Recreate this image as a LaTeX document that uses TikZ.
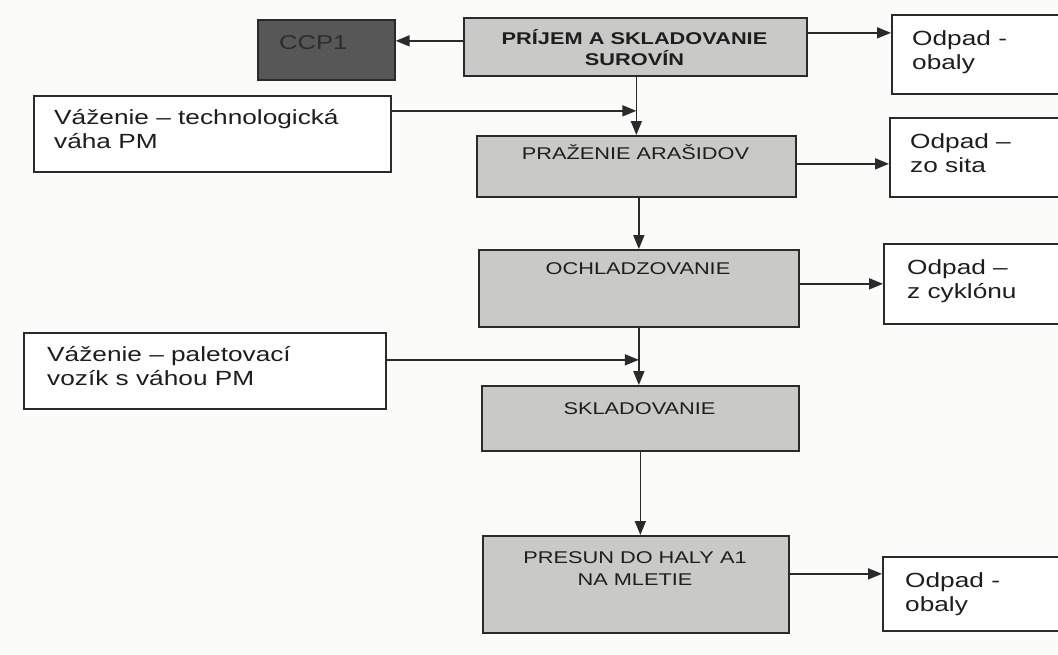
\documentclass[tikz,border=0pt]{standalone}
\usepackage{fontspec}
\setmainfont{Liberation Sans}
\newfontfamily\widesans[FakeStretch=1.28]{Liberation Sans}
\usetikzlibrary{arrows.meta}
\definecolor{edge}{HTML}{2A2A2A}
\definecolor{boxgray}{HTML}{C9C9C7}
\definecolor{darkbox}{HTML}{575757}
\definecolor{ink}{HTML}{1E1E1E}
\definecolor{ccpink}{HTML}{2C2C2C}
\definecolor{paper}{HTML}{FBFBF9}
\begin{document}
\begin{tikzpicture}[x=1pt,y=-1pt,
  gbox/.style={draw=edge, line width=1.7pt, fill=boxgray, inner sep=0pt, anchor=north west},
  wbox/.style={draw=edge, line width=1.7pt, fill=white, inner sep=0pt, anchor=north west},
  dbox/.style={draw=edge, line width=1.7pt, fill=darkbox, inner sep=0pt, anchor=north west},
  arr/.style={draw=edge, line width=1.7pt, -{Triangle[length=14pt,width=11pt]}},
  captxt/.style={text=ink, inner sep=0pt, anchor=base, align=center, font=\widesans\fontsize{17}{22}\selectfont},
  bigtxt/.style={text=ink, inner sep=0pt, anchor=base west, align=left, font=\widesans\fontsize{20.5}{24}\selectfont},
]
\useasboundingbox (0,0) rectangle (1058,654);
\fill[paper] (0,0) rectangle (1058,654);
\clip (0,0) rectangle (1058,654);

% process steps
\node[gbox, minimum width=343pt, minimum height=58pt] (prijem) at (463,17) {};
\node[gbox, minimum width=319pt, minimum height=61pt] (pra) at (476,135) {};
\node[gbox, minimum width=320pt, minimum height=77pt] (och) at (478,249) {};
\node[gbox, minimum width=317pt, minimum height=65pt] (skl) at (481,385) {};
\node[gbox, minimum width=306pt, minimum height=97pt] (pre) at (482,535) {};

% control point
\node[dbox, minimum width=137pt, minimum height=60pt] (ccp) at (257,19) {};

% weighing inputs
\node[wbox, minimum width=357pt, minimum height=76pt] (vaz1) at (33,95) {};
\node[wbox, minimum width=362pt, minimum height=76pt] (vaz2) at (23,332) {};

% waste outputs
\node[wbox, minimum width=190pt, minimum height=79pt] (odp1) at (891,14) {};
\node[wbox, minimum width=190pt, minimum height=79pt] (odp2) at (889,117) {};
\node[wbox, minimum width=190pt, minimum height=80pt] (odp3) at (883,243) {};
\node[wbox, minimum width=190pt, minimum height=74pt] (odp4) at (882,556) {};

% texts (multi-line nodes sit on the baseline of their last line)
\node[captxt, font=\widesans\fontsize{17}{21}\bfseries\selectfont] (prijemt) at (634.5,65) {PRÍJEM A SKLADOVANIE\\SUROVÍN};
\node[text=ccpink, inner sep=0pt, anchor=base west, font=\widesans\fontsize{20}{24}\selectfont] (ccpt) at (279,49) {CCP1};
\node[captxt] (prat) at (635.5,159) {PRAŽENIE ARAŠIDOV};
\node[captxt] (ocht) at (638,274) {OCHLADZOVANIE};
\node[captxt] (sklt) at (639.5,414) {SKLADOVANIE};
\node[captxt] (pret) at (635,585) {PRESUN DO HALY A1\\NA MLETIE};
\node[bigtxt] (vaz1t) at (54,148) {Váženie – technologická\\váha PM};
\node[bigtxt] (vaz2t) at (47,385) {Váženie – paletovací\\vozík s váhou PM};
\node[bigtxt] (odp1t) at (912,69) {Odpad -\\obaly};
\node[bigtxt] (odp2t) at (910,172) {Odpad –\\zo sita};
\node[bigtxt] (odp3t) at (907,298) {Odpad –\\z cyklónu};
\node[bigtxt] (odp4t) at (905,611) {Odpad -\\obaly};

% flow connectors
\draw[arr] ([yshift=6pt]prijem.west) -- ([yshift=6pt]prijem.west -| ccp.east);
\draw[arr] ([yshift=14pt]prijem.east) -- ([yshift=14pt]prijem.east -| odp1.west);
\draw[arr] (prijem.south -| pra.north) -- (pra.north);
\draw[arr] ([yshift=23pt]vaz1.east) -- ([yshift=23pt]vaz1.east -| pra.north);
\draw[arr] ([yshift=2.5pt]pra.east) -- ([yshift=2.5pt]pra.east -| odp2.west);
\draw[arr] (pra.south -| och.north) -- (och.north);
\draw[arr] ([yshift=4.5pt]och.east) -- ([yshift=4.5pt]och.east -| odp3.west);
\draw[arr] ([yshift=11pt]vaz2.east) -- ([yshift=11pt]vaz2.east -| och.south);
\draw[arr] (och.south) -- (och.south |- skl.north);
\draw[arr] (skl.south) -- (skl.south |- pre.north);
\draw[arr] ([yshift=10.5pt]pre.east) -- ([yshift=10.5pt]pre.east -| odp4.west);
\end{tikzpicture}
\end{document}
